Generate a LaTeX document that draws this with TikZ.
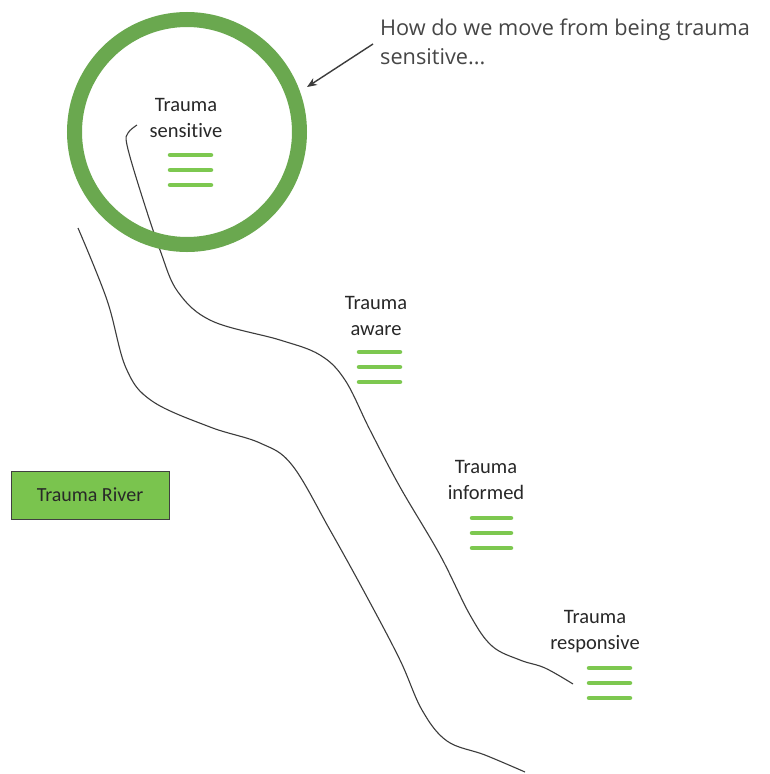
\documentclass[tikz,border=0pt]{standalone}
\usepackage{fontspec}
\setmainfont{Carlito}[Ligatures=NoCommon]
\newfontfamily\calloutfont{Open Sans}
\usetikzlibrary{arrows.meta}
\definecolor{ringgreen}{RGB}{106,168,79}
\definecolor{bargreen}{RGB}{125,200,80}
\definecolor{boxgreen}{RGB}{122,196,78}
\definecolor{inkgray}{RGB}{60,60,60}
\definecolor{labelgray}{RGB}{40,40,40}
\definecolor{calloutgray}{RGB}{70,70,70}
\tikzset{
  stagelabel/.style={align=center, inner sep=0pt, text=labelgray,
    font=\fontsize{20.5}{26}\selectfont},
  stagebar/.style={draw=bargreen, line width=4.5pt, line cap=round},
  bank/.style={draw=inkgray, line width=1.1pt},
}
% three short bars under a stage label
\newcommand{\stagebars}[3]{%
  \foreach \dy in {0,15,30} {\draw[stagebar] (#1,#3+\dy) -- (#2,#3+\dy);}}
\begin{document}
\begin{tikzpicture}[x=1pt,y=-1pt]
\useasboundingbox (0,0) rectangle (770,774);
\fill[white] (0,0) rectangle (770,774);

% river banks
\draw[bank] plot[smooth, tension=0.6] coordinates {
  (137,125) (128,133) (127,145) (140,190) (160,250) (178,292) (212,321)
  (280,340) (320,355) (345,380) (370,430) (400,487) (440,555) (470,615)
  (492,646) (520,660) (545,668) (573,684)};
\draw[bank] plot[smooth, tension=0.6] coordinates {
  (78,228) (107,300) (126,368) (152,401) (210,427) (260,443) (292,465)
  (330,530) (367,597) (400,660) (422,710) (447,741) (485,755) (525,772)};

% highlight ring
\draw[ringgreen, line width=15pt] (187,132) circle [radius=112.5];

% stage labels and bars
\node[stagelabel] (sensitive) at (186,118) {Trauma\\sensitive};
\stagebars{170}{211}{155}
\node[stagelabel] (aware) at (376,316) {Trauma\\aware};
\stagebars{359}{400}{352}
\node[stagelabel] (informed) at (486,480) {Trauma\\informed};
\stagebars{472}{511}{518}
\node[stagelabel] (responsive) at (595,632) {Trauma\\responsive};
\stagebars{589}{630}{668}

% legend box
\node[draw=black!75, line width=1pt, fill=boxgreen, text=labelgray,
  minimum width=158pt, minimum height=48pt, inner sep=0pt,
  font=\fontsize{20}{22}\selectfont] (river) at (90,495) {Trauma River};

% callout
\node[anchor=north west, align=left, inner sep=0pt, text=calloutgray,
  font=\calloutfont\fontsize{21.7}{28.5}\selectfont] (question) at (380,19)
  {How do we move from being trauma\\sensitive...};
\coordinate (qstart) at (373,44);
\coordinate (ringpt) at (307,87);
\draw[inkgray, line width=1.4pt, -{Stealth[length=10pt,width=8pt]}] (qstart) -- (ringpt);
\end{tikzpicture}
\end{document}
